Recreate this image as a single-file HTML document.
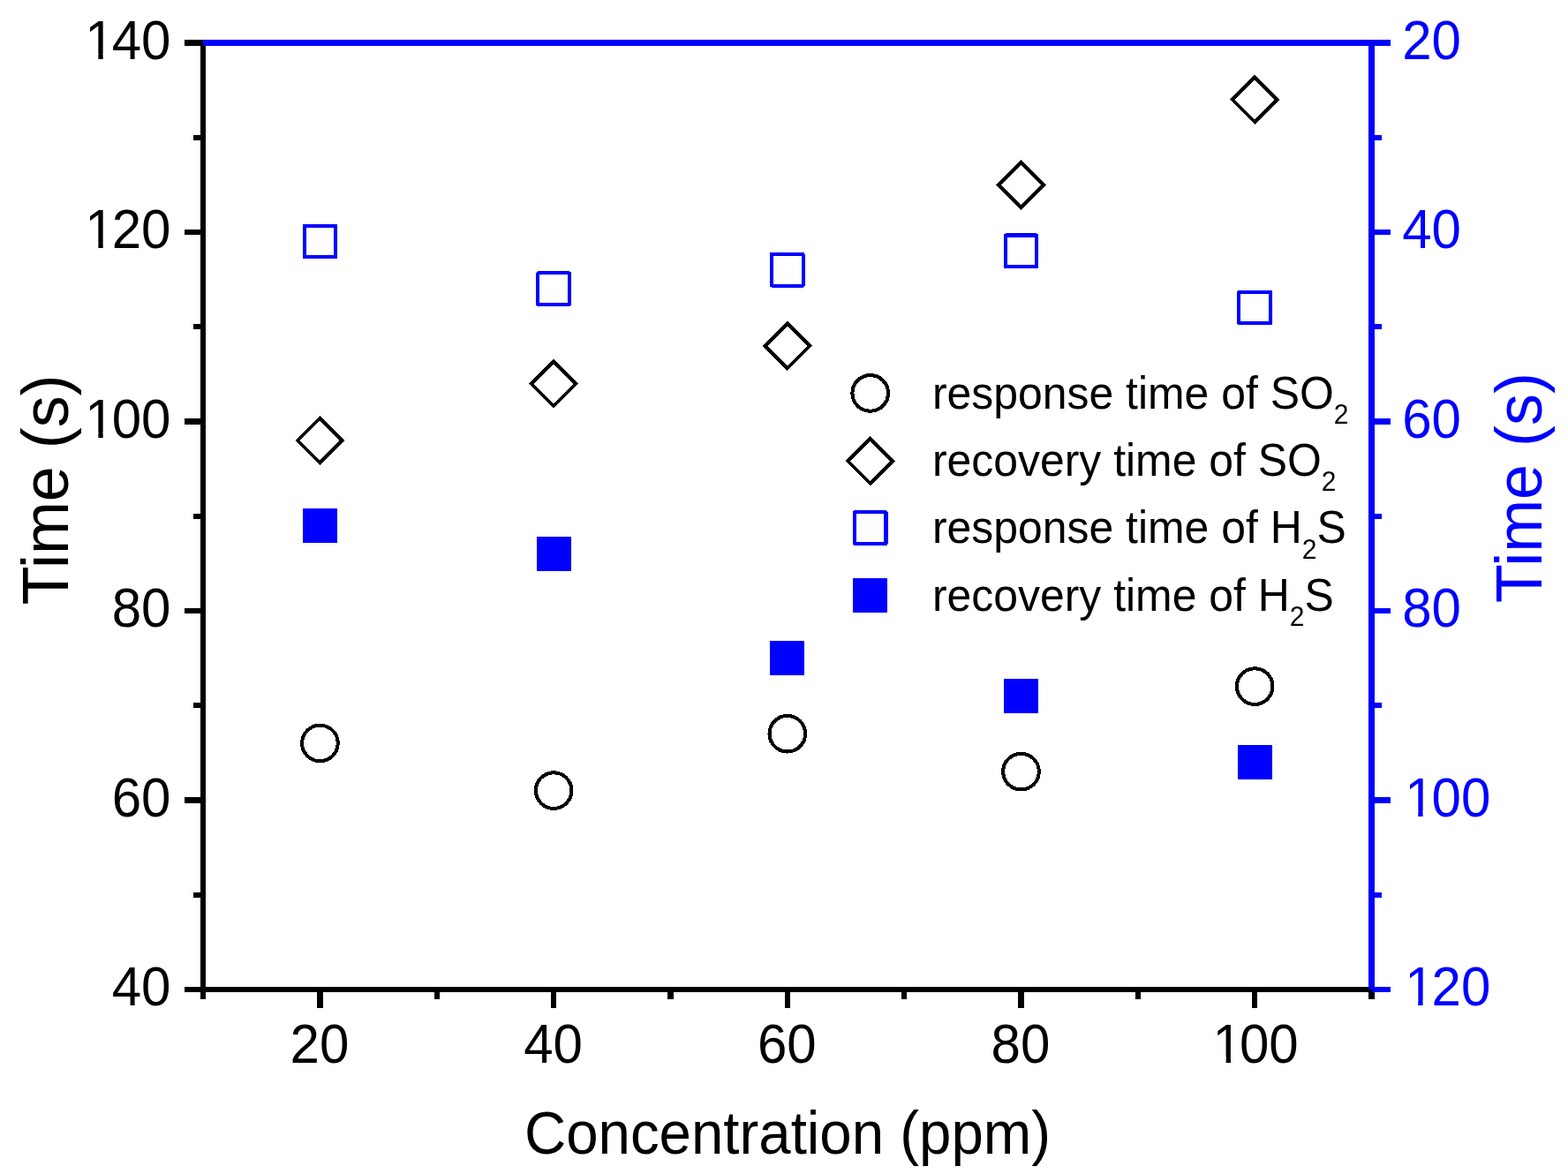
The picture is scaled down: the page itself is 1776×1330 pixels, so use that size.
<!DOCTYPE html>
<html lang="en"><head><meta charset="utf-8">
<title>Response and recovery time vs concentration</title>
<style>
html,body{margin:0;padding:0;background:#fff;}
body{width:1776px;height:1330px;overflow:hidden;}
svg{display:block;}
text{font-family:"Liberation Sans", sans-serif;}
</style></head><body>
<svg width="1776" height="1330" viewBox="0 0 1776 1330" role="img" aria-label="Response and recovery time of SO2 and H2S versus concentration">
<rect x="0" y="0" width="1776" height="1330" fill="#ffffff"/>
<g stroke="#000" stroke-width="6.25" fill="none" stroke-linecap="butt" shape-rendering="crispEdges">
<line x1="208.9" y1="1121.15" x2="1553.5" y2="1121.15"/>
<line x1="230.1" y1="45.38" x2="230.1" y2="1132.15"/>
<line x1="208.9" y1="1121.15" x2="230.1" y2="1121.15"/>
<line x1="219.1" y1="1013.89" x2="230.1" y2="1013.89"/>
<line x1="208.9" y1="906.62" x2="230.1" y2="906.62"/>
<line x1="219.1" y1="799.36" x2="230.1" y2="799.36"/>
<line x1="208.9" y1="692.09" x2="230.1" y2="692.09"/>
<line x1="219.1" y1="584.83" x2="230.1" y2="584.83"/>
<line x1="208.9" y1="477.56" x2="230.1" y2="477.56"/>
<line x1="219.1" y1="370.3" x2="230.1" y2="370.3"/>
<line x1="208.9" y1="263.03" x2="230.1" y2="263.03"/>
<line x1="219.1" y1="155.76" x2="230.1" y2="155.76"/>
<line x1="208.9" y1="48.5" x2="230.1" y2="48.5"/>
<line x1="230.1" y1="1121.15" x2="230.1" y2="1132.15"/>
<line x1="362.44" y1="1121.15" x2="362.44" y2="1142.35"/>
<line x1="494.78" y1="1121.15" x2="494.78" y2="1132.15"/>
<line x1="627.12" y1="1121.15" x2="627.12" y2="1142.35"/>
<line x1="759.46" y1="1121.15" x2="759.46" y2="1132.15"/>
<line x1="891.8" y1="1121.15" x2="891.8" y2="1142.35"/>
<line x1="1024.14" y1="1121.15" x2="1024.14" y2="1132.15"/>
<line x1="1156.48" y1="1121.15" x2="1156.48" y2="1142.35"/>
<line x1="1288.82" y1="1121.15" x2="1288.82" y2="1132.15"/>
<line x1="1421.16" y1="1121.15" x2="1421.16" y2="1142.35"/>
<line x1="1553.5" y1="1121.15" x2="1553.5" y2="1132.15"/>
</g>
<g stroke="#0000ff" stroke-width="6.25" fill="none" stroke-linecap="butt" shape-rendering="crispEdges">
<line x1="230.1" y1="48.5" x2="1574.7" y2="48.5"/>
<line x1="1553.5" y1="48.5" x2="1553.5" y2="1121.15"/>
<line x1="1553.5" y1="48.5" x2="1574.7" y2="48.5"/>
<line x1="1553.5" y1="155.76" x2="1564.5" y2="155.76"/>
<line x1="1553.5" y1="263.03" x2="1574.7" y2="263.03"/>
<line x1="1553.5" y1="370.3" x2="1564.5" y2="370.3"/>
<line x1="1553.5" y1="477.56" x2="1574.7" y2="477.56"/>
<line x1="1553.5" y1="584.83" x2="1564.5" y2="584.83"/>
<line x1="1553.5" y1="692.09" x2="1574.7" y2="692.09"/>
<line x1="1553.5" y1="799.36" x2="1564.5" y2="799.36"/>
<line x1="1553.5" y1="906.62" x2="1574.7" y2="906.62"/>
<line x1="1553.5" y1="1013.89" x2="1564.5" y2="1013.89"/>
<line x1="1553.5" y1="1121.15" x2="1574.7" y2="1121.15"/>
</g>
<defs><clipPath id="nofoot" clipPathUnits="userSpaceOnUse"><path clip-rule="evenodd" d="M-20 -70H140V20H-20Z M1 -5.8H18.06V6H1Z M23.4 -5.8H34.22V6H23.4Z"/></clipPath></defs>
<text transform="translate(126.66 1139.45) scale(1 1.06)" font-size="60" fill="#000">40</text>
<text transform="translate(126.66 924.92) scale(1 1.06)" font-size="60" fill="#000">60</text>
<text transform="translate(126.66 710.39) scale(1 1.06)" font-size="60" fill="#000">80</text>
<text transform="translate(93.29 495.86) scale(1 1.06)" font-size="60" fill="#000" dx="3 -3" clip-path="url(#nofoot)">100</text>
<text transform="translate(93.29 281.33) scale(1 1.06)" font-size="60" fill="#000" dx="3 -3" clip-path="url(#nofoot)">120</text>
<text transform="translate(93.29 66.8) scale(1 1.06)" font-size="60" fill="#000" dx="3 -3" clip-path="url(#nofoot)">140</text>
<text transform="translate(1588.2 66.8) scale(1 1.06)" font-size="60" fill="#0000ff">20</text>
<text transform="translate(1588.2 281.33) scale(1 1.06)" font-size="60" fill="#0000ff">40</text>
<text transform="translate(1588.2 495.86) scale(1 1.06)" font-size="60" fill="#0000ff">60</text>
<text transform="translate(1588.2 710.39) scale(1 1.06)" font-size="60" fill="#0000ff">80</text>
<text transform="translate(1588.2 924.92) scale(1 1.06)" font-size="60" fill="#0000ff" dx="3 -3" clip-path="url(#nofoot)">100</text>
<text transform="translate(1588.2 1139.45) scale(1 1.06)" font-size="60" fill="#0000ff" dx="3 -3" clip-path="url(#nofoot)">120</text>
<text transform="translate(328.57 1203.5) scale(1 1.06)" font-size="60" fill="#000">20</text>
<text transform="translate(593.25 1203.5) scale(1 1.06)" font-size="60" fill="#000">40</text>
<text transform="translate(857.93 1203.5) scale(1 1.06)" font-size="60" fill="#000">60</text>
<text transform="translate(1122.61 1203.5) scale(1 1.06)" font-size="60" fill="#000">80</text>
<text transform="translate(1370.61 1203.5) scale(1 1.06)" font-size="60" fill="#000" dx="3 -3" clip-path="url(#nofoot)">100</text>
<text transform="translate(892 1307.1) scale(1 1.04)" font-size="65.4" text-anchor="middle" fill="#000">Concentration (ppm)</text>
<text transform="translate(77.4 554.9) rotate(-90) scale(1 1.03)" font-size="71.9" text-anchor="middle" fill="#000">Time (s)</text>
<text transform="translate(1745.5 552.6) rotate(-90) scale(1 1.03)" font-size="71.9" text-anchor="middle" fill="#0000ff">Time (s)</text>
<g shape-rendering="crispEdges">
<circle cx="362.44" cy="841.96" r="20.3" fill="none" stroke="#000" stroke-width="4.05"/>
<circle cx="627.12" cy="895.59" r="20.3" fill="none" stroke="#000" stroke-width="4.05"/>
<circle cx="891.8" cy="831.23" r="20.3" fill="none" stroke="#000" stroke-width="4.05"/>
<circle cx="1156.48" cy="874.14" r="20.3" fill="none" stroke="#000" stroke-width="4.05"/>
<circle cx="1421.16" cy="777.6" r="20.3" fill="none" stroke="#000" stroke-width="4.05"/>
<polygon points="362.44,473.66 387.79,499.01 362.44,524.36 337.09,499.01" fill="none" stroke="#000" stroke-width="4.05" stroke-linejoin="miter"/>
<polygon points="627.12,409.3 652.47,434.65 627.12,460 601.77,434.65" fill="none" stroke="#000" stroke-width="4.05" stroke-linejoin="miter"/>
<polygon points="891.8,366.4 917.15,391.75 891.8,417.1 866.45,391.75" fill="none" stroke="#000" stroke-width="4.05" stroke-linejoin="miter"/>
<polygon points="1156.48,184.05 1181.83,209.4 1156.48,234.75 1131.13,209.4" fill="none" stroke="#000" stroke-width="4.05" stroke-linejoin="miter"/>
<polygon points="1421.16,87.51 1446.51,112.86 1421.16,138.21 1395.81,112.86" fill="none" stroke="#000" stroke-width="4.05" stroke-linejoin="miter"/>
<rect x="344.64" y="255.76" width="35.6" height="35.6" fill="none" stroke="#0000ff" stroke-width="4.05" stroke-linejoin="round"/>
<rect x="609.32" y="309.39" width="35.6" height="35.6" fill="none" stroke="#0000ff" stroke-width="4.05" stroke-linejoin="round"/>
<rect x="874" y="287.94" width="35.6" height="35.6" fill="none" stroke="#0000ff" stroke-width="4.05" stroke-linejoin="round"/>
<rect x="1138.68" y="266.48" width="35.6" height="35.6" fill="none" stroke="#0000ff" stroke-width="4.05" stroke-linejoin="round"/>
<rect x="1403.36" y="330.84" width="35.6" height="35.6" fill="none" stroke="#0000ff" stroke-width="4.05" stroke-linejoin="round"/>
<rect x="342.94" y="576.05" width="39" height="39" fill="#0000ff"/>
<rect x="607.62" y="608.23" width="39" height="39" fill="#0000ff"/>
<rect x="872.3" y="726.22" width="39" height="39" fill="#0000ff"/>
<rect x="1136.98" y="769.13" width="39" height="39" fill="#0000ff"/>
<rect x="1401.66" y="844.21" width="39" height="39" fill="#0000ff"/>
</g>
<g shape-rendering="crispEdges">
<circle cx="985.7" cy="445.4" r="20.3" fill="none" stroke="#000" stroke-width="4.05"/>
<polygon points="985.7,496.95 1011.05,522.3 985.7,547.65 960.35,522.3" fill="none" stroke="#000" stroke-width="4.05" stroke-linejoin="miter"/>
<rect x="967.9" y="580.3" width="35.6" height="35.6" fill="none" stroke="#0000ff" stroke-width="4.05" stroke-linejoin="round"/>
<rect x="966.2" y="655" width="39" height="39" fill="#0000ff"/>
</g>
<text transform="translate(1056 463) scale(1 1.02)" font-size="49.9" fill="#000">response time of SO<tspan font-size="30" dy="17">2</tspan></text>
<text transform="translate(1056 539.1) scale(1 1.02)" font-size="49.9" fill="#000">recovery time of SO<tspan font-size="30" dy="17">2</tspan></text>
<text transform="translate(1056 615.2) scale(1 1.02)" font-size="49.9" fill="#000">response time of H<tspan font-size="30" dy="17">2</tspan><tspan dy="-17">S</tspan></text>
<text transform="translate(1056 692) scale(1 1.02)" font-size="49.9" fill="#000">recovery time of H<tspan font-size="30" dy="17">2</tspan><tspan dy="-17">S</tspan></text>
</svg>
</body></html>
